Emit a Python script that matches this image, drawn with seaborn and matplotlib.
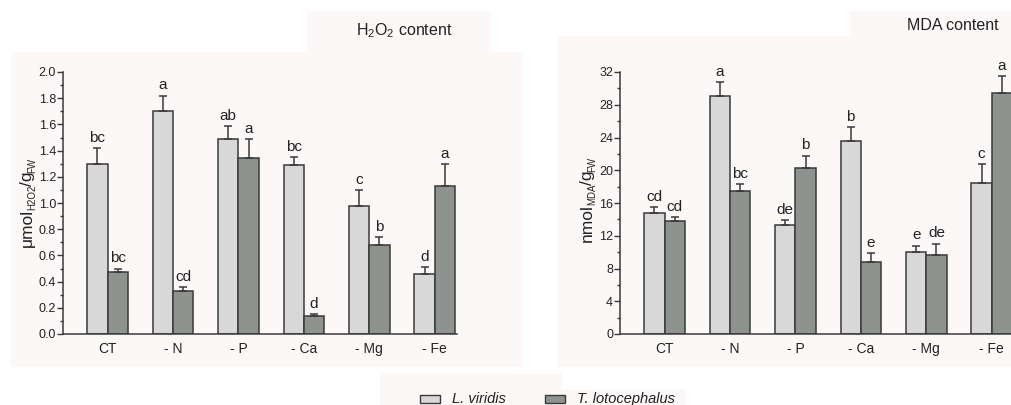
import numpy as np
import pandas as pd
import matplotlib
matplotlib.use("Agg")
import matplotlib.pyplot as plt
from matplotlib.patches import Rectangle
from matplotlib.ticker import MultipleLocator, FormatStrFormatter
import seaborn as sns

categories = ["CT", "- N", "- P", "- Ca", "- Mg", "- Fe"]
species = ["L. viridis", "T. lotocephalus"]

h2o2_lv = [1.30, 1.70, 1.49, 1.29, 0.98, 0.46]
h2o2_lv_err = [0.12, 0.12, 0.10, 0.06, 0.12, 0.05]
h2o2_tl = [0.47, 0.33, 1.34, 0.14, 0.68, 1.13]
h2o2_tl_err = [0.03, 0.03, 0.15, 0.015, 0.06, 0.17]
h2o2_lv_letters = ["bc", "a", "ab", "bc", "c", "d"]
h2o2_tl_letters = ["bc", "cd", "a", "d", "b", "a"]

mda_lv = [14.8, 29.1, 13.3, 23.6, 10.0, 18.4]
mda_lv_err = [0.7, 1.7, 0.6, 1.7, 0.8, 2.4]
mda_tl = [13.8, 17.5, 20.3, 8.8, 9.7, 29.4]
mda_tl_err = [0.5, 0.8, 1.5, 1.05, 1.35, 2.1]
mda_lv_letters = ["cd", "a", "de", "b", "e", "c"]
mda_tl_letters = ["cd", "bc", "b", "e", "de", "a"]

sns.set_theme(style="white")
plt.rcParams["font.family"] = ["Liberation Sans", "DejaVu Sans"]
plt.rcParams["mathtext.default"] = "regular"

W, H = 1011, 405
fig = plt.figure(figsize=(W / 100, H / 100), dpi=100)
fig.patch.set_facecolor("white")
renderer = fig.canvas.get_renderer()

BG = "#fcf8f7"
TXT = "#222222"
EDGE = "#3a3a3a"


def fig_rect(x0, y0, x1, y1):
    fig.patches.append(Rectangle((x0 / W, 1 - y1 / H), (x1 - x0) / W, (y1 - y0) / H,
                                 transform=fig.transFigure, facecolor=BG,
                                 edgecolor="none", zorder=-10))


fig_rect(11, 52, 523, 367)
fig_rect(307, 11, 491, 52)
fig_rect(558, 36, 1011, 367)
fig_rect(850, 11, 1011, 36)
fig_rect(380, 373, 562, 405)
fig_rect(562, 389, 686, 405)

palette = {"L. viridis": "#d8d8d8", "T. lotocephalus": "#8e9390"}


def vertical_label(pieces, base_x, center_y, overlap=1.5):
    """pieces: list of (text, fontsize, shift_px). Drawn rotated 90, bottom to top."""
    texts = []
    total = 0.0
    for s, fs, sh in pieces:
        t = fig.text(0, 0, s, fontsize=fs, rotation=90, rotation_mode="anchor",
                     ha="left", va="baseline", color=TXT)
        ext = t.get_window_extent(renderer)
        adv = ext.height - overlap
        texts.append((t, sh, adv))
        total += adv
    y = (H - center_y) - total / 2
    for t, sh, h in texts:
        t.set_position(((base_x + sh) / W, y / H))
        y += h


def panel(ax, lv, lv_err, tl, tl_err, lv_let, tl_let, ymax, major, minor, fmt):
    df = pd.DataFrame({
        "cat": categories * 2,
        "sp": [species[0]] * 6 + [species[1]] * 6,
        "val": list(lv) + list(tl),
    })
    sns.barplot(data=df, x="cat", y="val", hue="sp", order=categories,
                hue_order=species, palette=palette, width=0.62, errorbar=None,
                edgecolor=EDGE, linewidth=1.1, legend=False, ax=ax, saturation=1)
    ax.set_facecolor("none")
    off = ymax * 0.012
    for cont, errs, lets in zip(ax.containers, [lv_err, tl_err], [lv_let, tl_let]):
        for bar, e, t in zip(cont, errs, lets):
            xc = bar.get_x() + bar.get_width() / 2
            h = bar.get_height()
            ax.errorbar([xc], [h], yerr=[[0], [e]], fmt="none", ecolor=EDGE,
                        elinewidth=1.1, capsize=3, capthick=1.1, zorder=1)
            ax.text(xc, h + e + off, t, ha="center", va="bottom", fontsize=11,
                    color=TXT, clip_on=False)
    ax.set_xlim(-0.68, 5.34)
    ax.set_ylim(0, ymax)
    ax.yaxis.set_major_locator(MultipleLocator(major))
    ax.yaxis.set_minor_locator(MultipleLocator(minor))
    ax.yaxis.set_major_formatter(FormatStrFormatter(fmt))
    ax.tick_params(axis="y", which="major", direction="out", length=4, width=1,
                   color=EDGE, labelsize=9, pad=1, left=True, labelcolor=TXT)
    ax.tick_params(axis="y", which="minor", direction="out", length=2, width=1,
                   color=EDGE, left=True)
    ax.tick_params(axis="x", length=0, labelsize=10, pad=6, labelcolor=TXT)
    for s in ["top", "right"]:
        ax.spines[s].set_visible(False)
    for s in ["left", "bottom"]:
        ax.spines[s].set_color(EDGE)
        ax.spines[s].set_linewidth(1.1)
    ax.set_xlabel("")
    ax.set_ylabel("")


axl = fig.add_axes([63 / W, 1 - 334 / H, 394 / W, 262 / H])
panel(axl, h2o2_lv, h2o2_lv_err, h2o2_tl, h2o2_tl_err, h2o2_lv_letters, h2o2_tl_letters,
      2.0, 0.2, 0.1, "%.1f")

axr = fig.add_axes([620 / W, 1 - 334 / H, 394 / W, 262 / H])
panel(axr, mda_lv, mda_lv_err, mda_tl, mda_tl_err, mda_lv_letters, mda_tl_letters,
      32, 4, 2, "%d")

vertical_label([("μmol", 12.5, 0), ("H2O2", 7, 3.5), ("/g", 12.5, 0), ("FW", 7, 3.5)], 32, 203)
vertical_label([("nmol", 12.5, 0), ("MDA", 7, 3.5), ("/g", 12.5, 0), ("FW", 7, 3.5)], 592, 200)

fig.text(404 / W, 1 - 31 / H, r"H$_2$O$_2$ content", ha="center", va="center",
         fontsize=11.5, color=TXT)
fig.text(953 / W, 1 - 26 / H, "MDA content", ha="center", va="center",
         fontsize=11.5, color=TXT)

# legend
for i, sp in enumerate(species):
    x0 = [420, 545][i]
    fig.patches.append(Rectangle((x0 / W, 1 - 403 / H), 20 / W, 8 / H,
                                 transform=fig.transFigure, facecolor=palette[sp],
                                 edgecolor=EDGE, linewidth=1.0))
    fig.text((x0 + 32) / W, 1 - 399 / H, sp, ha="left", va="center",
             fontsize=10.5, style="italic", color=TXT)

fig.savefig("out.png", dpi=100, facecolor="white")
